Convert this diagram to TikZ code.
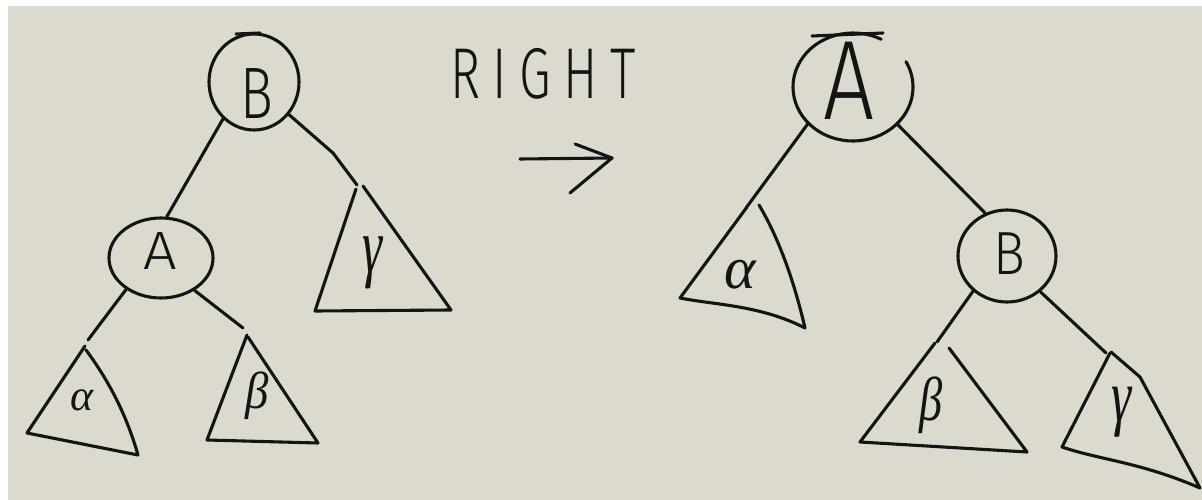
\documentclass[tikz,border=0pt]{standalone}
\usepackage{fontspec}
\setmainfont{Liberation Sans}
\newfontfamily\gk{Liberation Serif}
\newfontfamily\thinfont{Fira Sans Light}
\usetikzlibrary{shapes.geometric}
\definecolor{bg}{RGB}{220,218,206}
\definecolor{ink}{RGB}{20,20,20}
\begin{document}
\begin{tikzpicture}[x=1pt,y=1pt,
  stroke/.style={draw=ink,line width=3.1pt,line cap=round,line join=round},
  circ/.style={ellipse,stroke,inner sep=0pt},
  lbl/.style={text=ink,inner sep=0pt,font=\thinfont},
  glbl/.style={text=ink,inner sep=0pt,font=\gk\itshape}]
\useasboundingbox (0,0) rectangle (1202,-500);
\fill[white] (0,0) rectangle (1202,-500);
\fill[bg] (8,-6) rectangle (1202,-500);

% ---------- left tree ----------
\node[circ,minimum width=90,minimum height=96] (lB) at (254,-82) {};
\node[lbl] (lBt) at (257,-93) {\fontsize{73}{73}\selectfont\scalebox{0.75}[1]{B}};
\node[circ,minimum width=104,minimum height=80] (lA) at (161,-258) {};
\node[lbl] (lAt) at (160,-251) {\fontsize{54}{54}\selectfont\scalebox{1.1}[1]{A}};
\draw[stroke] (236,-34) -- (260,-33);

\coordinate (lgBend) at (333,-153);
\coordinate (lgTop) at (357,-185);
\coordinate (laTop) at (88,-340);
\coordinate (lbTop) at (243,-328);

\draw[stroke] (lB.230) -- (lA.82);
\draw[stroke] (lB.317) -- (lgBend) -- (lgTop);
\draw[stroke] (lA.222) -- (laTop);
\draw[stroke] (lA.316) -- (lbTop);

% gamma subtree
\draw[stroke] (356,-189) -- (315,-311) -- (451,-310) -- (363,-186);
\node[glbl] (lg) at (372,-263) {\fontsize{78}{78}\selectfont\scalebox{0.65}[1]{γ}};
% alpha subtree
\draw[stroke] (85,-346) -- (27,-433) -- (138,-455) .. controls (128,-420) and (112,-385) .. (86,-350);
\node[glbl] (la) at (82,-400) {\fontsize{44}{44}\selectfont α};
% beta subtree
\draw[stroke] (247,-335) -- (207,-440) -- (318,-443) -- (248,-337);
\node[glbl] (lb) at (257,-396) {\fontsize{52}{52}\selectfont\scalebox{0.9}[1]{β}};

% ---------- label + arrow ----------
\node[lbl] (rot) at (543,-74) {\addfontfeature{LetterSpace=24}\fontsize{72}{72}\selectfont\scalebox{0.71}[1]{RIGHT}};
\coordinate (arS) at (520,-159);
\coordinate (arE) at (612,-158);
\draw[stroke] (arS) -- (arE);
\draw[stroke] (575,-144) -- (arE) -- (570,-193);

% ---------- right tree ----------
\node[ellipse,inner sep=0pt,minimum width=120,minimum height=108] (rA) at (853,-87) {};
\draw[stroke] (rA.center) ++(62:60 and 54) arc[start angle=62,end angle=388,x radius=60,y radius=54];
\draw[stroke] (883,-33) -- (812,-36);
\node[lbl] (rAt) at (849,-81) {\fontsize{113}{113}\selectfont\scalebox{0.8}[1]{A}};
\node[circ,minimum width=98,minimum height=92] (rB) at (1007,-256) {};
\node[lbl] (rBt) at (1009,-254) {\fontsize{61}{61}\selectfont\scalebox{0.87}[1]{B}};

\coordinate (raTop) at (746,-208);
\coordinate (rbTop) at (937,-342);
\coordinate (rgTop) at (1106,-353);

\draw[stroke] (rA.219) -- (raTop);
\draw[stroke] (rA.320) -- (rB.117);
\draw[stroke] (rB.226) -- (rbTop);
\draw[stroke] (rB.313) -- (rgTop);

% alpha subtree
\draw[stroke] (747,-207) -- (680,-298) .. controls (715,-305) and (760,-305) .. (805,-328) .. controls (795,-285) and (780,-240) .. (759,-205);
\node[glbl] (ra) at (740,-275) {\fontsize{60}{60}\selectfont α};
% beta subtree
\draw[stroke] (935,-343) -- (860,-442) -- (1027,-452) -- (949,-348);
\node[glbl] (rb) at (931,-405) {\fontsize{62}{62}\selectfont\scalebox{0.75}[1]{β}};
% gamma subtree
\draw[stroke] (1110,-353) -- (1062,-447) .. controls (1100,-460) and (1140,-462) .. (1200,-488) -- (1140,-377) -- (1111,-352);
\node[glbl] (rg) at (1122,-412) {\fontsize{75}{75}\selectfont\scalebox{0.68}[1]{γ}};
\end{tikzpicture}
\end{document}
